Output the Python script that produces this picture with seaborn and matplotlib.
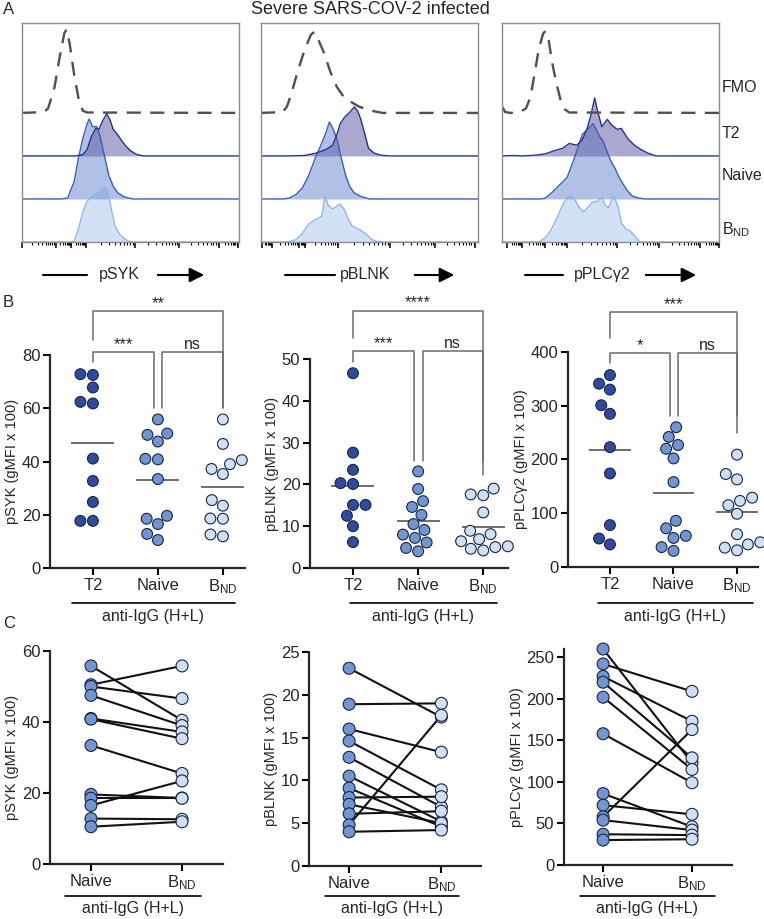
import numpy as np
import pandas as pd
import matplotlib
matplotlib.use('Agg')
import matplotlib.pyplot as plt
from matplotlib.lines import Line2D
from matplotlib.patches import FancyArrowPatch
import seaborn as sns

sns.set_theme(style='ticks')
plt.rcParams['font.family'] = ['Liberation Sans', 'DejaVu Sans']
plt.rcParams['axes.linewidth'] = 1.6

W, H = 764, 919

# ---- panel B / C values (gMFI x 100) ----
groups = ['T2', 'Naive', 'BND']
group_labels = ['T2', 'Naive', r'$\mathregular{B_{ND}}$']

syk_t2 = [72.5, 72.8, 67.8, 62.4, 61.8, 41.1, 32.7, 24.8, 17.7, 17.7]
syk_naive = [55.8, 50.5, 50.0, 47.5, 41.0, 40.8, 33.4, 19.6, 18.5, 16.5, 12.8, 10.5]
syk_bnd = [40.5, 55.8, 46.6, 39.0, 37.2, 35.3, 25.5, 18.6, 18.5, 23.4, 12.6, 11.9]

blnk_t2 = [46.6, 27.6, 23.5, 20.3, 20.1, 15.1, 15.1, 12.5, 10.0, 6.2]
blnk_naive = [23.1, 18.9, 16.0, 14.6, 12.7, 10.5, 9.1, 8.0, 7.2, 6.1, 4.8, 4.0]
blnk_bnd = [17.4, 19.0, 13.3, 8.9, 6.9, 5.2, 4.6, 8.1, 5.0, 6.4, 17.6, 4.2]

plc_t2 = [341, 357, 330, 301, 285, 223, 174, 78, 42, 53]
plc_naive = [260, 242, 227, 220, 202, 158, 86, 72, 58, 54, 37, 30]
plc_bnd = [123, 209, 173, 129, 115, 99, 46, 61, 163, 42, 36, 31]

sig_syk = ['**', '***', 'ns']
sig_blnk = ['****', '***', 'ns']
sig_plc = ['***', '*', 'ns']

# ---- panel A histogram traces (x: % of axis, h: height in row units) ----
syk_fmo_x = [0, 10, 12, 15, 17, 19.5, 20.5, 22, 24, 26, 28, 30, 100]
syk_fmo_h = [0, 0.02, 0.1, 0.6, 1.2, 1.85, 1.94, 1.6, 0.9, 0.35, 0.05, 0.01, 0]
syk_t2_x = [0, 25, 28, 30, 32, 34, 35.5, 37, 39, 40.5, 42, 44, 46, 48, 50, 53, 56, 100]
syk_t2_h = [0, 0, 0.03, 0.15, 0.45, 0.64, 0.62, 0.8, 0.98, 0.85, 0.62, 0.5, 0.35, 0.22, 0.12, 0.03, 0, 0]
syk_nv_x = [0, 18, 21, 24, 26, 28, 30, 31, 32.5, 34.5, 36, 38, 40, 42, 44, 47, 51, 100]
syk_nv_h = [0, 0, 0.02, 0.4, 0.95, 1.4, 1.75, 1.86, 1.68, 1.68, 1.45, 1.0, 0.55, 0.3, 0.15, 0.05, 0, 0]
syk_bnd_x = [0, 22, 24, 26, 28, 30, 32, 34, 36, 38, 39.5, 41, 43, 45, 47, 50, 100]
syk_bnd_h = [0, 0, 0.02, 0.3, 0.7, 0.95, 1.05, 1.12, 1.2, 1.28, 1.2, 0.8, 0.35, 0.18, 0.08, 0, 0]

blnk_fmo_x = [0, 10, 12, 14, 17, 20, 23, 24.5, 26, 29, 32, 35, 38, 41, 45, 50, 56, 100]
blnk_fmo_h = [0, 0.02, 0.15, 0.45, 0.98, 1.45, 1.82, 1.88, 1.75, 1.4, 0.95, 0.6, 0.38, 0.27, 0.15, 0.06, 0, 0]
blnk_t2_x = [0, 12, 20, 25, 30, 33, 35, 36.5, 38.5, 41, 43, 44.5, 46, 48, 49.5, 52, 55, 59, 100]
blnk_t2_h = [0, 0, 0.01, 0.06, 0.15, 0.25, 0.5, 0.75, 0.9, 1.02, 1.14, 1.05, 0.85, 0.48, 0.18, 0.07, 0.02, 0, 0]
blnk_nv_x = [0, 10, 13, 16, 19, 22, 25, 28, 30, 31.5, 33, 35, 37, 39, 41, 43, 46, 50, 100]
blnk_nv_h = [0, 0, 0.02, 0.1, 0.25, 0.55, 0.95, 1.3, 1.55, 1.79, 1.65, 1.4, 0.95, 0.55, 0.28, 0.14, 0.06, 0, 0]
blnk_bnd_x = [0, 12, 16, 19, 22, 25, 28, 29.5, 31, 33, 35, 36.5, 38.5, 40, 42, 45, 48, 51, 54, 100]
blnk_bnd_h = [0, 0, 0.05, 0.2, 0.42, 0.52, 0.6, 1.08, 0.85, 0.77, 0.84, 0.88, 0.75, 0.55, 0.37, 0.3, 0.2, 0.06, 0, 0]

plc_fmo_x = [0, 1.5, 4, 8, 11, 13, 15, 17, 19, 20, 21.5, 23, 25, 27, 29, 31, 100]
plc_fmo_h = [0.15, 0.02, 0, 0.02, 0.1, 0.35, 0.9, 1.5, 1.85, 1.9, 1.7, 1.2, 0.7, 0.3, 0.08, 0.01, 0]
plc_t2_x = [0, 5, 10, 16, 20, 24, 28, 31, 34.5, 37, 39, 41, 42.7, 44, 46, 48.5, 50.5, 53, 55, 58, 61, 64, 67, 71, 100]
plc_t2_h = [0, 0.01, 0, 0.02, 0.05, 0.12, 0.18, 0.29, 0.25, 0.38, 0.6, 0.95, 1.35, 1.05, 0.68, 0.85, 0.72, 0.62, 0.64, 0.4, 0.25, 0.15, 0.07, 0, 0]
plc_nv_x = [0, 18, 20, 23, 27, 30, 33, 35, 37, 39, 41, 42, 43.5, 45, 46.5, 48, 50, 52, 54, 56, 58, 60, 63, 66, 100]
plc_nv_h = [0, 0, 0.02, 0.15, 0.35, 0.5, 0.9, 1.2, 1.5, 1.6, 1.7, 1.75, 1.6, 1.45, 1.35, 1.15, 0.9, 0.72, 0.5, 0.33, 0.18, 0.07, 0.02, 0, 0]
plc_bnd_x = [0, 17, 20, 22.5, 25.5, 28.5, 30.5, 32, 34, 35.5, 37.5, 39.5, 41.5, 44, 46, 47.5, 49, 51.5, 53.5, 55, 57, 59, 61, 63.5, 100]
plc_bnd_h = [0, 0, 0.1, 0.27, 0.58, 0.92, 1.05, 1.08, 0.95, 0.81, 0.7, 0.8, 0.92, 0.95, 1.05, 0.85, 0.8, 1.08, 0.82, 0.45, 0.3, 0.26, 0.15, 0, 0]

row_names = ['FMO', 'T2', 'Naive', r'$\mathregular{B_{ND}}$']

c_t2, c_nv, c_bnd = '#2f4a9e', '#6f95d3', '#cfe0f5'


def fx(px):
    return px / W


def fy(py):
    return 1 - py / H


fig = plt.figure(figsize=(W / 100, H / 100), dpi=100)

# ================= A: histograms =================
hist_specs = [
    (22, 'pSYK', (syk_fmo_x, syk_fmo_h), (syk_t2_x, syk_t2_h), (syk_nv_x, syk_nv_h), (syk_bnd_x, syk_bnd_h),
     [0.2, 15.5, 22.8, 29.5, 52, 72.5, 91, 99.7], (43, 87), 119, (155, 207)),
    (261, 'pBLNK', (blnk_fmo_x, blnk_fmo_h), (blnk_t2_x, blnk_t2_h), (blnk_nv_x, blnk_nv_h), (blnk_bnd_x, blnk_bnd_h),
     [0.3, 4.9, 17.7, 20.5, 35.5, 59.4, 80.2, 98.8], (285, 335), 365, (412, 457)),
    (502, 'pPLC\u03b32', (plc_fmo_x, plc_fmo_h), (plc_t2_x, plc_t2_h), (plc_nv_x, plc_nv_h), (plc_bnd_x, plc_bnd_h),
     [2.3, 9.3, 20, 30, 53.2, 72.5, 91.4, 99.8], (525, 563), 602, (643, 699)),
]

for left, label, fmo, t2, nv, bnd, majors, line_x, text_x, arrow_x in hist_specs:
    ax = fig.add_axes([fx(left), fy(242), 217 / W, 219 / H])
    ax.set_xlim(0, 100)
    ax.set_ylim(0, 5.09)
    for base, (xs, hs), edge, face, alpha in [
        (0, bnd, '#93b6e8', '#c4d8f2', 0.75),
        (1, nv, '#3c5fb8', '#6f8fd0', 0.55),
        (2, t2, '#26338c', '#6462a8', 0.55),
    ]:
        xs = np.array(xs)
        top = base + np.array(hs)
        ax.fill_between(xs, base, top, color=face, alpha=alpha, lw=0)
        ax.plot(xs, top, color=edge, lw=1.0)
    ax.plot(fmo[0], 3 + np.array(fmo[1]), color='#505050', lw=1.7, ls=(0, (6, 4)))

    minors = []
    for a, b in zip(majors[:-1], majors[1:]):
        minors += list(a + (b - a) * np.log10(np.arange(2, 10)))
    ax.set_xticks(majors)
    ax.set_xticks(minors, minor=True)
    ax.set_yticks([])
    ax.tick_params(axis='x', which='major', direction='out', length=4, width=1.1,
                   color='black', labelbottom=False, bottom=True)
    ax.tick_params(axis='x', which='minor', direction='out', length=2, width=0.8,
                   color='black', bottom=True)
    for s in ax.spines.values():
        s.set_color('#8c8c8c')
        s.set_linewidth(1.0)

    fig.text(fx(text_x), fy(275), label, ha='center', va='center', fontsize=11.5)
    fig.add_artist(Line2D([fx(line_x[0]), fx(line_x[1])], [fy(275), fy(275)], color='black', lw=1.5))
    fig.add_artist(FancyArrowPatch((fx(arrow_x[0]), fy(275)), (fx(arrow_x[1]), fy(275)),
                                   transform=fig.transFigure, arrowstyle='-|>', mutation_scale=22,
                                   lw=1.5, color='black'))

for name, py in zip(row_names, [88, 133, 176, 230]):
    fig.text(fx(722), fy(py), name, ha='left', va='center', fontsize=11.5)

fig.text(fx(370), fy(9), 'Severe SARS-COV-2 infected', ha='center', va='center', fontsize=13)

# ================= B: column scatter =================
b_specs = [
    ([50, 568, 195, 213], (-0.66, 2.34), 80, 20, 'pSYK (gMFI x 100)', (syk_t2, syk_naive, syk_bnd), sig_syk,
     (96.6, 85.6, 60.0, 81.2, 77.5, 60.0), 153, (72, 235)),
    ([310, 568, 198, 209], (-0.66, 2.38), 50, 10, 'pBLNK (gMFI x 100)', (blnk_t2, blnk_naive, blnk_bnd), sig_blnk,
     (61.6, 55.1, 22.2, 52.0, 49.4, 25.7), 423, (350, 497)),
    ([568, 567, 190, 215], (-0.66, 2.33), 400, 100, 'pPLC\u03b32 (gMFI x 100)', (plc_t2, plc_naive, plc_bnd), sig_plc,
     (475, 425.5, 249, 397.5, 380, 281), 675, (598, 753)),
]

for (l, b, w, h), xlim, ymax, ystep, ylabel, vals, sig, br, ul_text, ul in b_specs:
    ax = fig.add_axes([fx(l), fy(b), w / W, h / H])
    df = pd.DataFrame({'group': np.repeat(groups, [len(v) for v in vals]),
                       'val': np.concatenate(vals)})
    sns.swarmplot(data=df, x='group', y='val', hue='group', order=groups,
                  palette=[c_t2, c_nv, c_bnd], legend=False, size=7.8,
                  edgecolor='#1e2440', linewidth=0.8, ax=ax, zorder=3, clip_on=False)
    for i, v in enumerate(vals):
        ax.hlines(np.mean(v), i - 0.33, i + 0.33, color='#555555', lw=1.2, zorder=2)
    ax.set_xlim(*xlim)
    ax.set_ylim(0, ymax)
    ax.set_yticks(np.arange(0, ymax + 1, ystep))
    ax.set_xticks(range(3))
    ax.set_xticklabels(group_labels)
    ax.set_xlabel('')
    ax.set_ylabel(ylabel, fontsize=10.5, labelpad=2)
    ax.tick_params(labelsize=12, length=5, width=1.5, color='black', pad=2)
    sns.despine(ax=ax)

    up, up_t2, up_bnd, lo, lo_t2, lo_nv = br
    bc = '#6b6b6b'
    ax.plot([0, 0, 2, 2], [up_t2, up, up, up_bnd], color=bc, lw=1.1, clip_on=False)
    ax.plot([0, 0, 0.94, 0.94], [lo_t2, lo, lo, lo_nv], color=bc, lw=1.1, clip_on=False)
    ax.plot([1.07, 1.07, 2, 2], [lo_nv, lo, lo, lo_nv], color=bc, lw=1.1, clip_on=False)
    ax.text(1.0, up, sig[0], ha='center', va='bottom', fontsize=12)
    ax.text(0.47, lo, sig[1], ha='center', va='bottom', fontsize=12)
    ax.text(1.53, lo, sig[2], ha='center', va='bottom', fontsize=11.5)

    fig.add_artist(Line2D([fx(ul[0]), fx(ul[1])], [fy(603), fy(603)], color='black', lw=1.2))
    fig.text(fx(ul_text), fy(616), 'anti-IgG (H+L)', ha='center', va='center', fontsize=11.5)

# ================= C: paired =================
c_specs = [
    ([50, 864, 173, 213], (-0.45, 1.45), 60, 20, 'pSYK (gMFI x 100)', syk_naive, syk_bnd, 133, (65, 201)),
    ([309, 866, 172, 214], (-0.435, 1.43), 25, 5, 'pBLNK (gMFI x 100)', blnk_naive, blnk_bnd, 392, (325, 459)),
    ([564, 865, 168, 216], (-0.44, 1.45), 260, 50, 'pPLC\u03b32 (gMFI x 100)', plc_naive, plc_bnd, 647, (580, 715)),
]

for (l, b, w, h), xlim, ymax, ystep, ylabel, nv, bd, ul_text, ul in c_specs:
    ax = fig.add_axes([fx(l), fy(b), w / W, h / H])
    n = len(nv)
    df = pd.DataFrame({'pair': np.tile(np.arange(n), 2),
                       'pos': np.repeat([0, 1], n),
                       'val': np.concatenate([nv, bd])})
    sns.lineplot(data=df, x='pos', y='val', units='pair', estimator=None,
                 color='#111111', lw=1.5, ax=ax, zorder=2)
    sns.scatterplot(data=df, x='pos', y='val', hue='pos', palette=[c_nv, c_bnd],
                    legend=False, s=74, edgecolor='#1e2440', linewidth=0.8, ax=ax,
                    zorder=3, clip_on=False)
    ax.set_xlim(*xlim)
    ax.set_ylim(0, ymax)
    ax.set_yticks(np.arange(0, ymax + 1, ystep))
    ax.set_xticks([0, 1])
    ax.set_xticklabels(['Naive', r'$\mathregular{B_{ND}}$'])
    ax.set_xlabel('')
    ax.set_ylabel(ylabel, fontsize=10.5, labelpad=2)
    ax.tick_params(labelsize=12, length=5, width=1.5, color='black', pad=2)
    sns.despine(ax=ax)

    fig.add_artist(Line2D([fx(ul[0]), fx(ul[1])], [fy(896), fy(896)], color='black', lw=1.2))
    fig.text(fx(ul_text), fy(908), 'anti-IgG (H+L)', ha='center', va='center', fontsize=11.5)

for letter, py in [('A', 9), ('B', 303), ('C', 623)]:
    fig.text(fx(3), fy(py), letter, ha='left', va='center', fontsize=12)

fig.savefig('out.png', dpi=100)
